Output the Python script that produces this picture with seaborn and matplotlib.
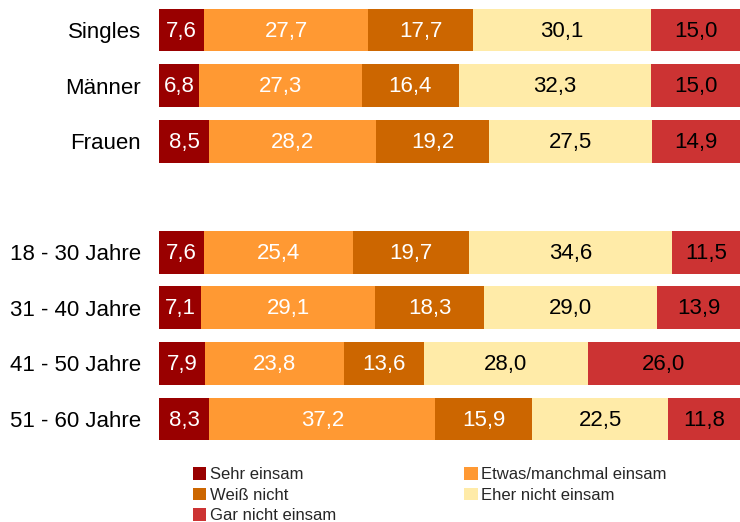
import numpy as np
import pandas as pd
import matplotlib.pyplot as plt
import seaborn as sns
from matplotlib.patches import Patch

# Werte aus dem Diagramm (Prozent)
gruppen = ['Singles', 'Männer', 'Frauen',
           '18 - 30 Jahre', '31 - 40 Jahre', '41 - 50 Jahre', '51 - 60 Jahre']
kategorien = ['Sehr einsam', 'Etwas/manchmal einsam', 'Weiß nicht',
              'Eher nicht einsam', 'Gar nicht einsam']
sehr = [7.6, 6.8, 8.5, 7.6, 7.1, 7.9, 8.3]
etwas = [27.7, 27.3, 28.2, 25.4, 29.1, 23.8, 37.2]
weiss = [17.7, 16.4, 19.2, 19.7, 18.3, 13.6, 15.9]
eher = [30.1, 32.3, 27.5, 34.6, 29.0, 28.0, 22.5]
gar = [15.0, 15.0, 14.9, 11.5, 13.9, 26.0, 11.8]

farben = ['#990000', '#FF9933', '#CC6600', '#FFEBA8', '#CC3333']
textfarben = ['white', 'white', 'white', 'black', 'black']

werte = np.array([sehr, etwas, weiss, eher, gar])
# Balken auf 100% gestreckt, Beschriftung mit Originalwerten
anteile = werte / werte.sum(axis=0) * 100
kumuliert = anteile.cumsum(axis=0)

# Leerzeile zwischen Geschlecht und Altersgruppen
order = gruppen[:3] + [' '] + gruppen[3:]

sns.set_style('white')
plt.rcParams['font.family'] = ['Liberation Sans', 'DejaVu Sans']

fig = plt.figure(figsize=(7.4, 5.22), dpi=100)
ax = fig.add_axes([0.2149, 0.1441, 0.7851, 0.8517])

# gestapelt: kumulierte Summen von hinten nach vorne zeichnen
for i in range(4, -1, -1):
    df = pd.DataFrame({'gruppe': gruppen, 'wert': kumuliert[i]})
    sns.barplot(data=df, x='wert', y='gruppe', order=order, color=farben[i],
                saturation=1, width=0.77, edgecolor='none', linewidth=0, ax=ax)

for i in range(5):
    for j, g in enumerate(gruppen):
        x = kumuliert[i][j] - anteile[i][j] / 2
        ax.text(x, order.index(g) + 0.02, f'{werte[i][j]:.1f}'.replace('.', ','),
                ha='center', va='center', fontsize=16, color=textfarben[i])

ax.set_xlim(0, 100)
ax.set_ylim(7.5, -0.5)
ax.set_xlabel('')
ax.set_ylabel('')
ax.set_xticks([])
ax.tick_params(axis='y', length=0, pad=13, labelsize=16, labelcolor='black')
sns.despine(ax=ax, left=True, bottom=True)

handles = [Patch(facecolor=farben[k], edgecolor='none') for k in [0, 2, 4, 1, 3]]
labels = [kategorien[k] for k in [0, 2, 4, 1, 3]]
fig.legend(handles, labels, ncol=2, loc='upper left',
           bbox_to_anchor=(193 / 740, 1 - 467 / 522), frameon=False,
           fontsize=12, handlelength=0.8, handleheight=0.8, handletextpad=0.2,
           columnspacing=7.7, labelspacing=0.33, borderpad=0, borderaxespad=0)

fig.savefig('out.png', dpi=100)
